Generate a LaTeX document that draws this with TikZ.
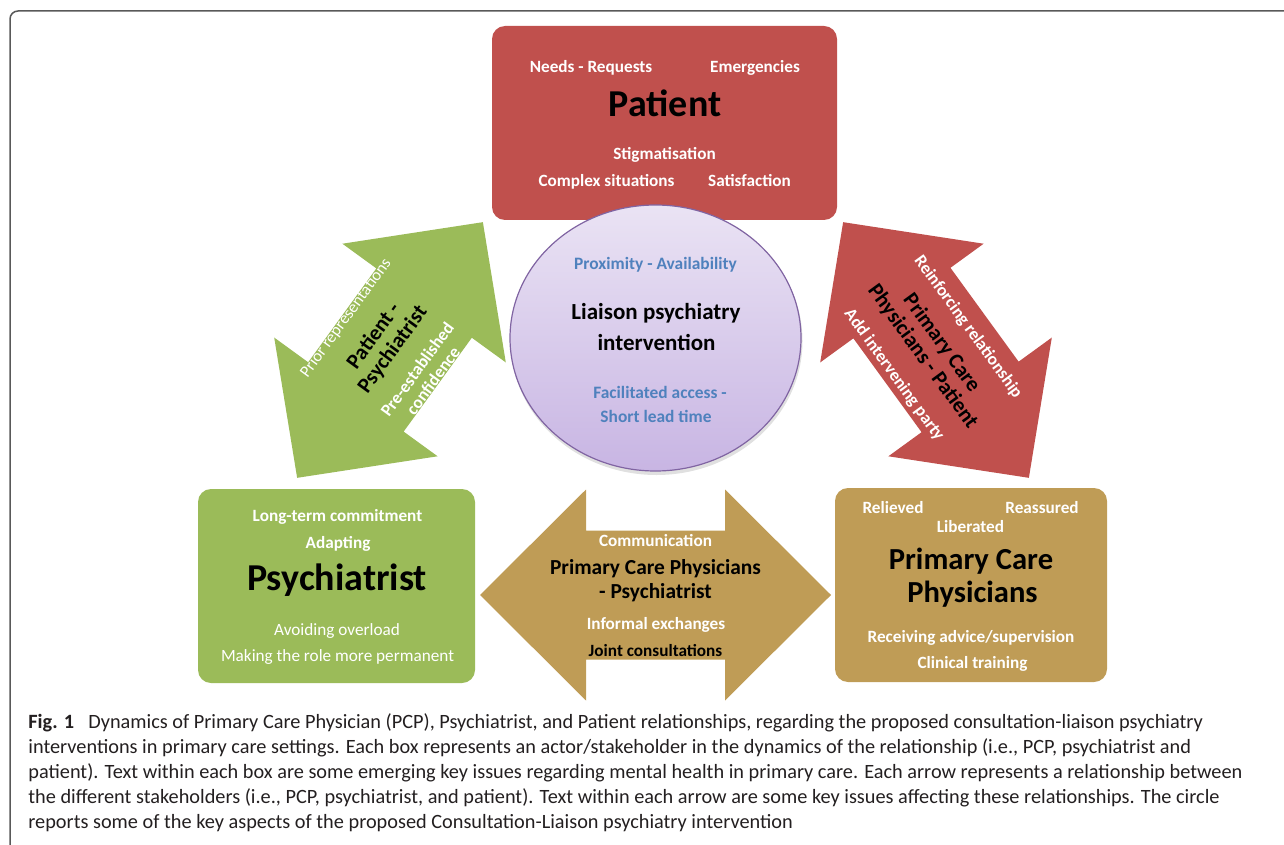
\documentclass[tikz,border=0pt]{standalone}
\usepackage{fontspec}
\setmainfont{Carlito}
\usetikzlibrary{shapes.geometric}

\definecolor{patred}{HTML}{C0504D}
\definecolor{psygreen}{HTML}{9BBB59}
\definecolor{pcptan}{HTML}{BF9C56}
\definecolor{liablue}{HTML}{4F81BD}
\definecolor{liapurple}{HTML}{8064A2}
\definecolor{liatop}{HTML}{EAE3F4}
\definecolor{liabottom}{HTML}{C8B5E3}
\definecolor{captext}{HTML}{231F20}

% block arrow with two heads: half length, head length, half head width, half shaft width
\newcommand\twoway[4]{(-#1,0) -- (-#1+#2,#3) -- (-#1+#2,#4) -- (#1-#2,#4) -- (#1-#2,#3)
  -- (#1,0) -- (#1-#2,-#3) -- (#1-#2,-#4) -- (-#1+#2,-#4) -- (-#1+#2,-#3) -- cycle}

\begin{document}
\begin{tikzpicture}
  [x=0.5pt,y=-0.5pt,
  every node/.style={inner sep=0},
  box/.style={rounded corners=6.5pt,minimum height=97pt},
  note/.style={anchor=base,text=white,font=\bfseries\fontsize{8.6}{10}\selectfont},
  plain/.style={anchor=base,text=white,font=\fontsize{8.6}{10}\selectfont},
  actor/.style={anchor=base,font=\bfseries\fontsize{19}{20}\selectfont},
  aspect/.style={anchor=base,text=liablue,font=\bfseries\fontsize{8.7}{10}\selectfont},
  link/.style={align=center,font=\bfseries\fontsize{10.8}{11.6}\selectfont},
  tag/.style={align=center,text=white,font=\bfseries\fontsize{8.7}{9.8}\selectfont},
  capline/.style={anchor=base west,text=captext,font=\fontsize{10.15}{12}\selectfont}]
  \useasboundingbox (0,0) rectangle (1284,845);
  \draw[black!65,line width=0.75pt,rounded corners=4pt] (10,846) -- (10,11) -- (1285,11);

  % the three actors
  \node[box,fill=patred,minimum width=172.5pt] (patient) at (664.5,123) {};
  \node[box,fill=psygreen,minimum width=138.5pt] (psy) at (336.5,586) {};
  \node[box,fill=pcptan,minimum width=136pt] (pcp) at (971,585) {};

  % relationships
  \fill[psygreen,shift={(390,350)},rotate=54] \twoway{158}{100}{101}{59};
  \fill[patred,shift={(936,350)},rotate=-54] \twoway{158}{100}{101}{60};
  \fill[pcptan,shift={(655.5,595)}] \twoway{175.5}{106}{105.5}{64.5};

  % intervention
  \fill[black,opacity=.12] (656.5,341) ellipse [x radius=73pt,y radius=67pt];
  \node[ellipse,draw=liapurple,line width=0.6pt,top color=liatop,bottom color=liabottom,
    minimum width=145.5pt,minimum height=133pt] (liaison) at (655.5,338) {};

  \node[note] (needs) at (591,73) {Needs - Requests};
  \node[note] (emerg) at (755,73) {Emergencies};
  \node[actor] (pattitle) at (665,116.7) {Patient};
  \node[note] (stigma) at (664.5,160) {Stigmatisation};
  \node[note] (complex) at (606.5,187) {Complex situations};
  \node[note] (satisf) at (749.5,187) {Satisfaction};

  \node[note] (longterm) at (337.5,521.7) {Long-term commitment};
  \node[note] (adapt) at (338,548) {Adapting};
  \node[actor] (psytitle) at (337,590) {Psychiatrist};
  \node[plain] (overload) at (337,635) {Avoiding overload};
  \node[plain] (perm) at (337.5,661) {Making the role more permanent};

  \node[note] (relieved) at (893,513) {Relieved};
  \node[note] (reass) at (1042,513) {Reassured};
  \node[note] (liber) at (970.5,532) {Liberated};
  \node[actor,font=\bfseries\fontsize{15.3}{16}\selectfont] (pcptitle) at (971,569) {Primary Care};
  \node[actor,font=\bfseries\fontsize{15.3}{16}\selectfont] (pcptitleb) at (972.5,602) {Physicians};
  \node[note] (advice) at (971,642) {Receiving advice/supervision};
  \node[note] (clin) at (972.5,668) {Clinical training};

  \node[aspect] (prox) at (655.5,270) {Proximity - Availability};
  \node[actor,font=\bfseries\fontsize{11.5}{12}\selectfont] (liatitle) at (656,319) {Liaison psychiatry};
  \node[actor,font=\bfseries\fontsize{11.5}{12}\selectfont] (liatitleb) at (656.5,350) {intervention};
  \node[aspect] (facil) at (660,398) {Facilitated access -};
  \node[aspect] (short) at (656,422) {Short lead time};

  \node[note] (comm) at (655.5,546) {Communication};
  \node[actor,font=\bfseries\fontsize{10.7}{12}\selectfont] (pcppsy) at (655.5,574) {Primary Care Physicians};
  \node[actor,font=\bfseries\fontsize{10.7}{12}\selectfont] (pcppsyb) at (655.5,598) {- Psychiatrist};
  \node[note] (inform) at (656,629) {Informal exchanges};
  \node[note,text=black] (joint) at (655.5,656) {Joint consultations};

  \node[tag,font=\fontsize{8.3}{10}\selectfont,rotate=54] (prior) at (346,318) {Prior representations};
  \node[link,rotate=54] (patpsy) at (383.5,343) {Patient -\\Psychiatrist};
  \node[tag,rotate=54] (confid) at (425,375) {Pre-established\\confidence};
  \node[tag,rotate=-54] (reinf) at (968,327) {Reinforcing relationship};
  \node[link,rotate=-54] (pcppat) at (932,350) {Primary Care\\Physicians - Patient};
  \node[tag,rotate=-54] (addint) at (894,375) {Add intervening party};

  % caption
  \node[capline] (capa) at (28,728) {\textbf{Fig. 1}\hspace{0.7em}Dynamics of Primary Care Physician (PCP), Psychiatrist, and Patient relationships, regarding the proposed consultation-liaison psychiatry};
  \node[capline] (capb) at (28,753) {interventions in primary care settings. Each box represents an actor/stakeholder in the dynamics of the relationship (i.e., PCP, psychiatrist and};
  \node[capline] (capc) at (28,778) {patient). Text within each box are some emerging key issues regarding mental health in primary care. Each arrow represents a relationship between};
  \node[capline] (capd) at (28,803) {the different stakeholders (i.e., PCP, psychiatrist, and patient). Text within each arrow are some key issues affecting these relationships. The circle};
  \node[capline] (cape) at (28,828) {reports some of the key aspects of the proposed Consultation-Liaison psychiatry intervention};
\end{tikzpicture}
\end{document}
